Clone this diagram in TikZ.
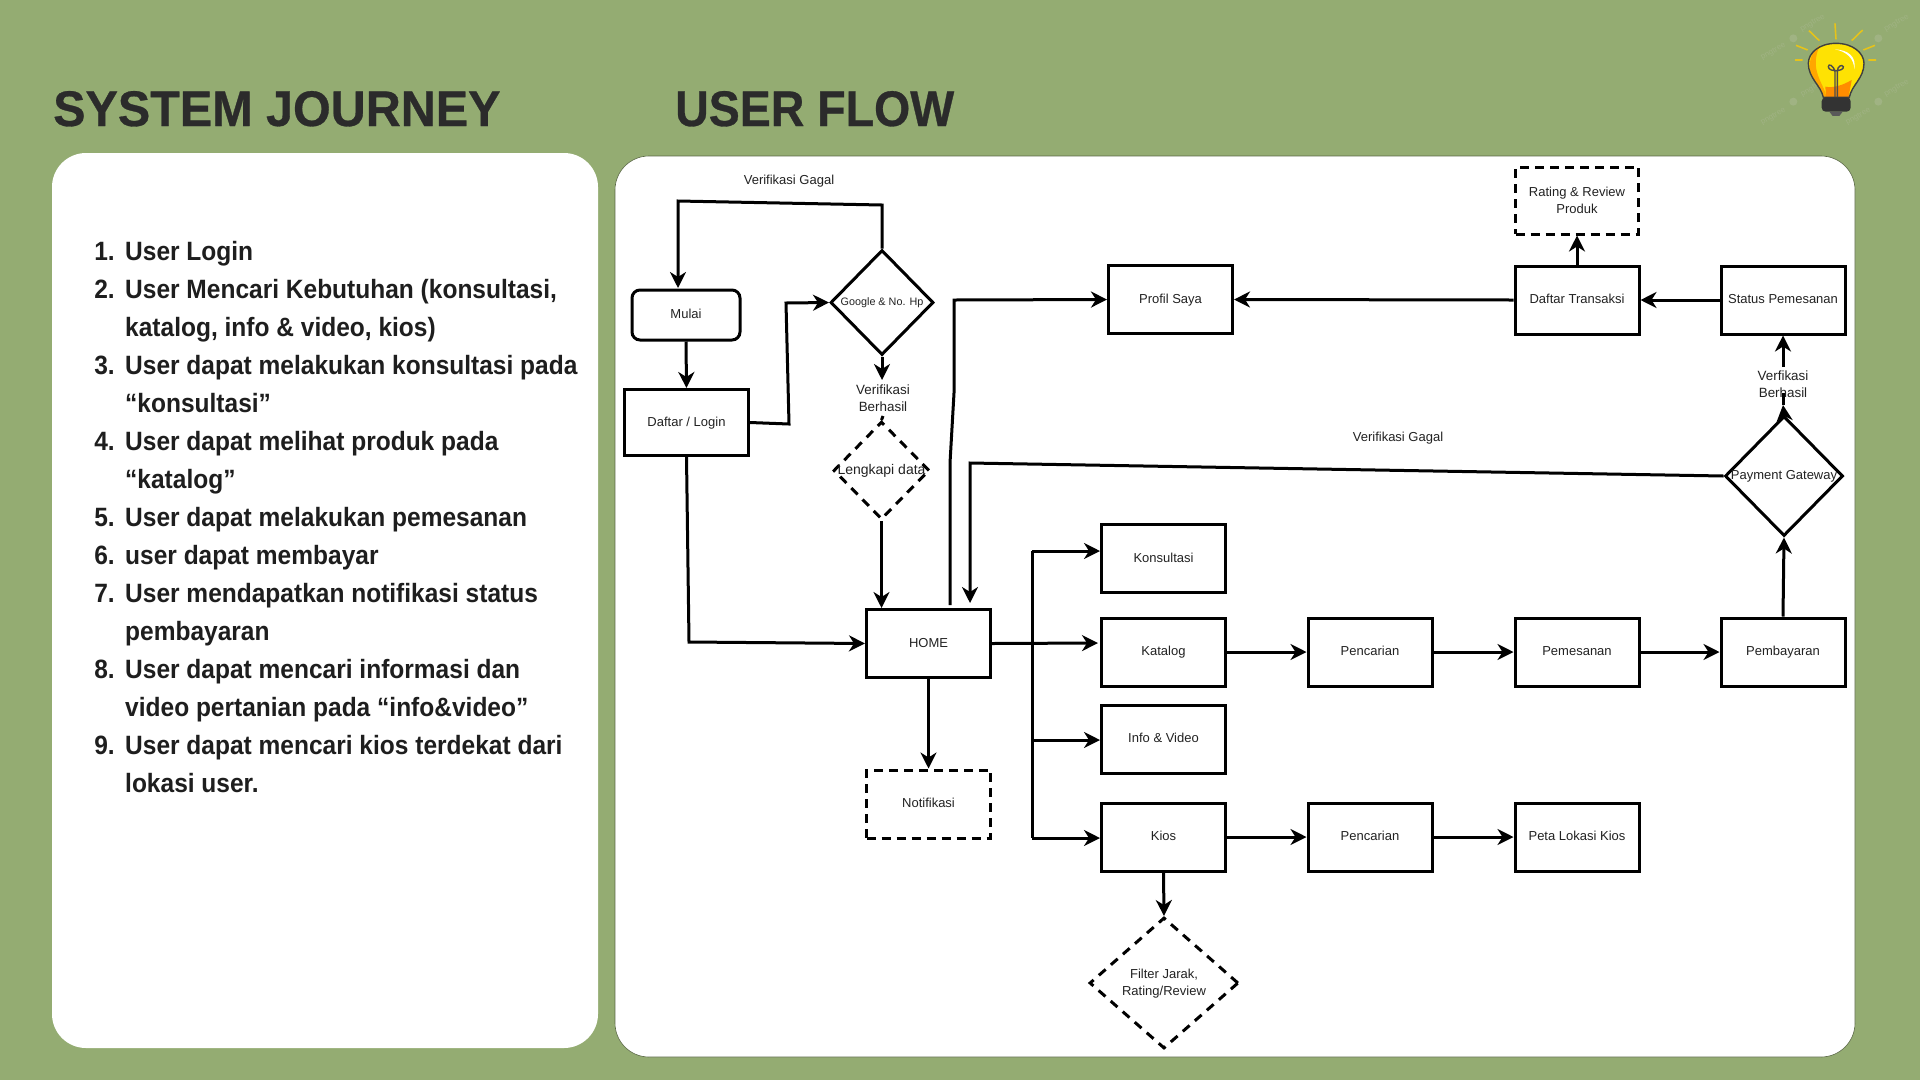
\documentclass[tikz,border=0pt]{standalone}
\usepackage{fontspec}
\setmainfont{Liberation Sans}
\newfontfamily\listf[FakeStretch=.925]{Liberation Sans Bold}
\newfontfamily\ttlfa[FakeStretch=.97,FakeBold=.6]{Liberation Sans Bold}
\newfontfamily\ttlfb[FakeStretch=.93,FakeBold=.6]{Liberation Sans Bold}
\usetikzlibrary{arrows.meta,shapes.geometric,calc}
\definecolor{bgc}{HTML}{94AC72}
\definecolor{titlec}{HTML}{2B2B2B}
\definecolor{listc}{HTML}{1E1E1E}
\definecolor{labc}{HTML}{222222}
\definecolor{wm}{HTML}{A0B383}
\tikzset{
 panel/.style={fill=white,rounded corners=34pt},
 boxbase/.style={draw=black,line width=3pt,rectangle,inner sep=0pt,minimum width=124pt,minimum height=68pt,font=\fontsize{13}{17}\selectfont,text=labc},
 boxn/.style={boxbase,text height=9.5pt,text depth=2.5pt},
 dashbox/.style={boxn,dash pattern=on 9pt off 6pt},
 dia/.style={draw=black,line width=3pt,diamond,inner sep=0pt},
 lab/.style={font=\fontsize{13}{17}\selectfont,text=labc,align=center,inner sep=0pt},
 conn/.style={draw=black,line width=3pt},
 arr/.style={conn,-{Stealth[length=16pt,width=16pt,inset=5pt]}},
 ttl/.style={font=\fontsize{50}{50}\selectfont,text=titlec,anchor=base west,inner sep=0pt},
 li/.style={font=\fontsize{26.5}{30}\selectfont\listf,text=listc,anchor=base west,inner sep=0pt},
 num/.style={font=\fontsize{26.5}{30}\selectfont\listf,text=listc,anchor=base east,inner sep=0pt},
 wmk/.style={font=\fontsize{8}{8}\selectfont,text=wm,rotate=30,inner sep=0pt}
}
\begin{document}
\begin{tikzpicture}[x=1pt,y=-1pt]
\useasboundingbox (0,0) rectangle (1920,1080);
\fill[bgc] (0,0) rectangle (1920,1080);
% panels
\path[panel] (52,153) rectangle (598,1048);
\path[panel,draw=black!40!bgc,line width=.6pt] (615,156) rectangle (1855,1057);
% titles
\node[ttl] (t1) at (53,126) {\ttlfa SYSTEM JOURNEY};
\node[ttl] (t2) at (675,126) {\ttlfb USER FLOW};
% list
\node[num] (n1) at (115,260) {1.};  \node[li] (l1) at (125,260) {User Login};
\node[num] (n2) at (115,298) {2.};  \node[li] (l2) at (125,298) {User Mencari Kebutuhan (konsultasi,};
\node[li] (l2b) at (125,336) {katalog, info \& video, kios)};
\node[num] (n3) at (115,374) {3.};  \node[li] (l3) at (125,374) {User dapat melakukan konsultasi pada};
\node[li] (l3b) at (125,412) {“konsultasi”};
\node[num] (n4) at (115,450) {4.};  \node[li] (l4) at (125,450) {User dapat melihat produk pada};
\node[li] (l4b) at (125,488) {“katalog”};
\node[num] (n5) at (115,526) {5.};  \node[li] (l5) at (125,526) {User dapat melakukan pemesanan};
\node[num] (n6) at (115,564) {6.};  \node[li] (l6) at (125,564) {user dapat membayar};
\node[num] (n7) at (115,602) {7.};  \node[li] (l7) at (125,602) {User mendapatkan notifikasi status};
\node[li] (l7b) at (125,640) {pembayaran};
\node[num] (n8) at (115,678) {8.};  \node[li] (l8) at (125,678) {User dapat mencari informasi dan};
\node[li] (l8b) at (125,716) {video pertanian pada “info\&video”};
\node[num] (n9) at (115,754) {9.};  \node[li] (l9) at (125,754) {User dapat mencari kios terdekat dari};
\node[li] (l9b) at (125,792) {lokasi user.};
% nodes
\node[boxn,rounded corners=8pt,minimum width=108pt,minimum height=50pt] (mulai) at (686,315) {Mulai};
\node[boxn,minimum width=124pt,minimum height=66pt] (daftar) at (686.5,422.5) {Daftar / Login};
\node[dia,minimum width=103pt,minimum height=105pt,label={[lab,font=\fontsize{10.8}{13}\selectfont]center:Google \& No. Hp}] (google) at (882,302.5) {};
\node[lab,font=\fontsize{13.4}{17}\selectfont] (vb1) at (883,398) {Verifikasi\\Berhasil};
\node[dia,dash pattern=on 9pt off 7pt,minimum width=96pt,minimum height=98pt,label={[lab,font=\fontsize{14}{17}\selectfont]center:Lengkapi data}] (lengkapi) at (881.5,470.5) {};
\node[boxn] (home) at (928.5,643.5) {HOME};
\node[dashbox] (notif) at (928.5,804) {Notifikasi};
\node[boxn] (kons) at (1163.5,558.5) {Konsultasi};
\node[boxn] (kat) at (1163.5,652) {Katalog};
\node[boxn] (info) at (1163.5,739) {Info \& Video};
\node[boxn] (kios) at (1163.5,837) {Kios};
\node[dia,dash pattern=on 9pt off 7pt,minimum width=149pt,minimum height=131pt,label={[lab,yshift=-1pt]center:Filter Jarak,\\Rating/Review}] (filter) at (1164,983) {};
\node[boxn] (penc1) at (1370,652) {Pencarian};
\node[boxn] (pems) at (1577,652) {Pemesanan};
\node[boxn] (pemb) at (1783,652) {Pembayaran};
\node[boxn] (penc2) at (1370,837) {Pencarian};
\node[boxn] (peta) at (1577,837) {Peta Lokasi Kios};
\node[dia,minimum width=118pt,minimum height=120pt,label={[lab]center:Payment Gateway}] (pay) at (1784,476) {};
\node[boxn] (status) at (1783,300) {Status Pemesanan};
\node[boxn] (trans) at (1577,300) {Daftar Transaksi};
\node[boxbase,align=center,minimum width=123pt,minimum height=67pt,dash pattern=on 9pt off 6pt] (rating) at (1577,200.5) {Rating \& Review\\Produk};
\node[boxn] (profil) at (1170.5,299.5) {Profil Saya};
\node[lab] (vg1) at (789,181) {Verifikasi Gagal};
\node[lab] (vg2) at (1398,438) {Verifikasi Gagal};
% bend points
\coordinate (g1) at (882,205); \coordinate (g2) at (678,201); \coordinate (g3) at (678,288);
\coordinate (d1) at (789,424); \coordinate (d2) at (786,303);
\coordinate (h1) at (689,642);
\coordinate (vbt) at (882,380); \coordinate (vbb) at (883,416);
\coordinate (p0) at (950,605); \coordinate (p1) at (950,463); \coordinate (p2) at (954,393); \coordinate (p3) at (954,300);
\coordinate (q1) at (970,463); \coordinate (q2) at (970,603);
\coordinate (trunkT) at (1032,551); \coordinate (trunkB) at (1032,838);
\coordinate (trunkI) at (1032,740);
\coordinate (konsW) at (1100,551); \coordinate (infoW) at (1100,740); \coordinate (kiosW) at (1100,838);
\coordinate (katW) at (1098,643);
\coordinate (vpa) at (1783,405); \coordinate (vpb) at (1783,393); \coordinate (vpc) at (1783,367);
% connectors
\draw[arr] (google.north) -- (g1) -- (g2) -- (g3);
\draw[arr] (mulai.south) -- (daftar.north);
\draw[arr] (daftar.east) -- (d1) -- (d2) -- (google.west);
\draw[arr] (daftar.south) -- (h1) -- (home.west);
\draw[arr] (google.south) -- (vbt);
\draw[conn] (vbb) -- (lengkapi.north);
\draw[arr] (lengkapi.south) -- (lengkapi.south |- home.north);
\draw[arr] (p0) -- (p1) -- (p2) -- (p3) -- (profil.west);
\draw[arr] (pay.west) -- (q1) -- (q2);
\draw[arr] (status.west) -- (trans.east);
\draw[arr] (trans.west) -- (profil.east);
\draw[arr] (trans.north) -- (rating.south);
\draw[arr] (pemb.north) -- (pay.south);
\draw[arr] (pay.north) -- (vpa);
\draw[conn] (vpa) -- (vpb);
\draw[arr] (vpc) -- (status.south);
\node[lab,font=\fontsize{13.4}{17}\selectfont] (vb2) at (1783,384) {Verfikasi\\Berhasil};
\draw[arr] (home.east) -- (katW);
\draw[conn] (trunkT) -- (trunkB);
\draw[arr] (trunkT) -- (konsW);
\draw[arr] (trunkI) -- (infoW);
\draw[arr] (trunkB) -- (kiosW);
\draw[arr] (home.south) -- (notif.north);
\draw[arr] (kat.east) -- (penc1.west);
\draw[arr] (penc1.east) -- (pems.west);
\draw[arr] (pems.east) -- (pemb.west);
\draw[arr] (kios.east) -- (penc2.west);
\draw[arr] (penc2.east) -- (peta.west);
\draw[arr] (kios.south) -- (filter.north);
% bulb
\begin{scope}[shift={(1720,0)},x=.3333pt,y=-.3333pt]
 \foreach \p/\q in {278/70,530/70,160/155,280/265,530/265,160/350,415/350}{\node[wmk] at (\p,\q) {pngtree};}
 \foreach \p/\q in {220/115,475/115,220/305,475/305}{\fill[wm] (\p,\q) circle (12);}
 \draw[line width=1.6pt,draw=yellow!70!orange!90!black] (345,70)--(348,118) (267,92)--(298,122) (428,90)--(395,122) (228,136)--(263,150) (465,136)--(430,150) (225,180)--(248,180) (445,180)--(468,180);
 \fill[yellow!85!orange] (348,130) .. controls (400,130) and (432,160) .. (432,190) .. controls (432,235) and (395,255) .. (388,292) -- (310,292) .. controls (302,255) and (265,235) .. (265,190) .. controls (265,160) and (296,130) .. (348,130) -- cycle;
 \fill[orange!70!yellow] (300,135) .. controls (265,160) and (262,210) .. (280,235) .. controls (295,255) and (305,270) .. (310,292) -- (320,292) .. controls (312,250) and (265,210) .. (300,135) -- cycle;
 \fill[orange!90!yellow] (318,292) -- (316,260) .. controls (340,265) and (370,255) .. (395,240) .. controls (392,260) and (388,275) .. (386,292) -- cycle;
 \fill[white] (345,148) .. controls (385,150) and (410,170) .. (403,208) .. controls (402,175) and (380,155) .. (345,148) -- cycle;
 \draw[line width=1.4pt,draw=black!75] (348,130) .. controls (400,130) and (432,160) .. (432,190) .. controls (432,235) and (395,255) .. (388,292) -- (310,292) .. controls (302,255) and (265,235) .. (265,190) .. controls (265,160) and (296,130) .. (348,130) -- cycle;
 \draw[line width=1.4pt,draw=black!70] (345,295) -- (345,215) .. controls (340,195) and (325,190) .. (325,200) .. controls (325,210) and (340,212) .. (348,212) .. controls (358,212) and (372,208) .. (370,200) .. controls (366,192) and (352,198) .. (352,215) -- (352,295);
 \fill[black!80,rounded corners=4pt] (305,292) rectangle (392,335);
 \fill[black!65] (328,335) -- (338,348) -- (358,348) -- (368,335) -- cycle;
\end{scope}
\end{tikzpicture}
\end{document}
